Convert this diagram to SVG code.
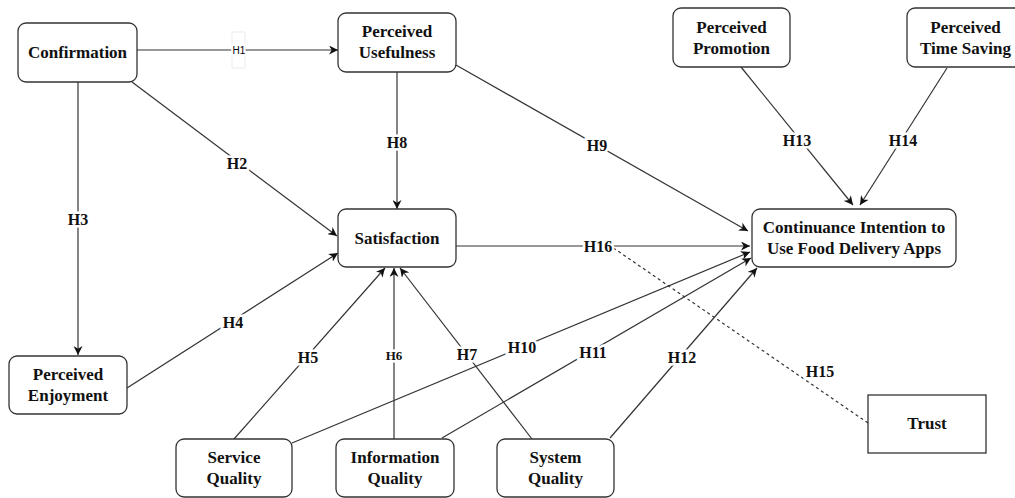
<svg xmlns="http://www.w3.org/2000/svg" width="1015" height="498" viewBox="0 0 1015 498">
<style>
.box{fill:#fff;stroke:#333;stroke-width:1.3}
.nt{font-family:"Liberation Serif","Times New Roman",serif;font-weight:bold;font-size:17px;fill:#111;text-anchor:middle}
.e{stroke:#333;stroke-width:1.2;fill:none}
.el{font-family:"Liberation Serif","Times New Roman",serif;font-weight:bold;font-size:16px;fill:#111;text-anchor:middle;dominant-baseline:central;stroke:#fff;stroke-width:5;paint-order:stroke}
</style>
<defs>
<marker id="a" viewBox="0 0 10 10" refX="10" refY="5" markerWidth="9" markerHeight="9" markerUnits="userSpaceOnUse" orient="auto">
<path d="M0,0 L10,5 L0,10 L3,5 z" fill="#111"/>
</marker>
</defs>
<rect width="1015" height="498" fill="#fff"/>
<g id="connectors">
<line class="e" x1="137" y1="50" x2="338" y2="50" marker-end="url(#a)"/>
<line class="e" x1="132" y1="82" x2="337" y2="236" marker-end="url(#a)"/>
<line class="e" x1="78" y1="82" x2="78" y2="355" marker-end="url(#a)"/>
<line class="e" x1="127" y1="388" x2="338" y2="253" marker-end="url(#a)"/>
<line class="e" x1="234" y1="439" x2="385" y2="268" marker-end="url(#a)"/>
<line class="e" x1="394" y1="439" x2="394" y2="268" marker-end="url(#a)"/>
<line class="e" x1="532" y1="439" x2="400" y2="268" marker-end="url(#a)"/>
<line class="e" x1="397" y1="72" x2="397" y2="209" marker-end="url(#a)"/>
<line class="e" x1="456" y1="65" x2="748" y2="231" marker-end="url(#a)"/>
<line class="e" x1="292" y1="443" x2="750" y2="252" marker-end="url(#a)"/>
<line class="e" x1="442" y1="438" x2="751" y2="258" marker-end="url(#a)"/>
<line class="e" x1="610" y1="438" x2="757" y2="268" marker-end="url(#a)"/>
<line class="e" x1="741" y1="67" x2="853" y2="205" marker-end="url(#a)"/>
<line class="e" x1="947" y1="68" x2="860" y2="205" marker-end="url(#a)"/>
<line class="e" x1="456" y1="246" x2="750" y2="246" marker-end="url(#a)"/>
<line class="e" x1="868" y1="423" x2="612" y2="247" stroke-dasharray="3,3"/>
<rect x="232" y="32" width="13" height="36" fill="none" stroke="#e6e6e6" stroke-width="0.8"/>
<text x="239" y="50" style="font-family:'Liberation Sans',Arial,sans-serif;font-weight:normal;font-size:10px;fill:#000;text-anchor:middle;dominant-baseline:central;stroke:#fff;stroke-width:4;paint-order:stroke">H1</text>
<text class="el" x="237" y="163">H2</text>
<text class="el" x="78" y="219">H3</text>
<text class="el" x="233" y="322">H4</text>
<text class="el" x="308" y="357">H5</text>
<text class="el" x="394" y="355" style="font-size:13px">H6</text>
<text class="el" x="467" y="354">H7</text>
<text class="el" x="397" y="142">H8</text>
<text class="el" x="597" y="145">H9</text>
<text class="el" x="522" y="347">H10</text>
<text class="el" x="593" y="352">H11</text>
<text class="el" x="682" y="357">H12</text>
<text class="el" x="797" y="140">H13</text>
<text class="el" x="903" y="140">H14</text>
<text class="el" x="820" y="371">H15</text>
<text class="el" x="598" y="246">H16</text>
</g>
<g id="confirmation"><rect class="box" x="18" y="23" width="119" height="59" rx="8"/><text class="nt" x="77.5" y="58">Confirmation</text></g>
<g id="perceived-usefulness"><rect class="box" x="338" y="13" width="118" height="59" rx="8"/><text class="nt" x="397" y="37">Perceived</text><text class="nt" x="397" y="58">Usefulness</text></g>
<g id="satisfaction"><rect class="box" x="338" y="209" width="118" height="58" rx="8"/><text class="nt" x="397" y="244">Satisfaction</text></g>
<g id="perceived-enjoyment"><rect class="box" x="9" y="356" width="118" height="58" rx="8"/><text class="nt" x="68" y="380">Perceived</text><text class="nt" x="68" y="401">Enjoyment</text></g>
<g id="service-quality"><rect class="box" x="176" y="439" width="116" height="58" rx="8"/><text class="nt" x="234" y="463">Service</text><text class="nt" x="234" y="484">Quality</text></g>
<g id="information-quality"><rect class="box" x="336" y="439" width="118" height="58" rx="8"/><text class="nt" x="395" y="463">Information</text><text class="nt" x="395" y="484">Quality</text></g>
<g id="system-quality"><rect class="box" x="497" y="439" width="117" height="58" rx="8"/><text class="nt" x="555.5" y="463">System</text><text class="nt" x="555.5" y="484">Quality</text></g>
<g id="continuance"><rect class="box" x="752" y="209" width="204" height="58" rx="8"/><text class="nt" x="854" y="233">Continuance Intention to</text><text class="nt" x="854" y="254">Use Food Delivery Apps</text></g>
<g id="perceived-promotion"><rect class="box" x="673" y="8" width="117" height="59" rx="8"/><text class="nt" x="731.5" y="33">Perceived</text><text class="nt" x="731.5" y="54">Promotion</text></g>
<g id="perceived-time-saving"><rect class="box" x="907" y="8" width="118" height="59" rx="8"/><text class="nt" x="965.5" y="33">Perceived</text><text class="nt" x="965.5" y="54">Time Saving</text></g>
<g id="trust"><rect class="box" x="868" y="395" width="118" height="58"/><text class="nt" x="927" y="429">Trust</text></g>
</svg>
